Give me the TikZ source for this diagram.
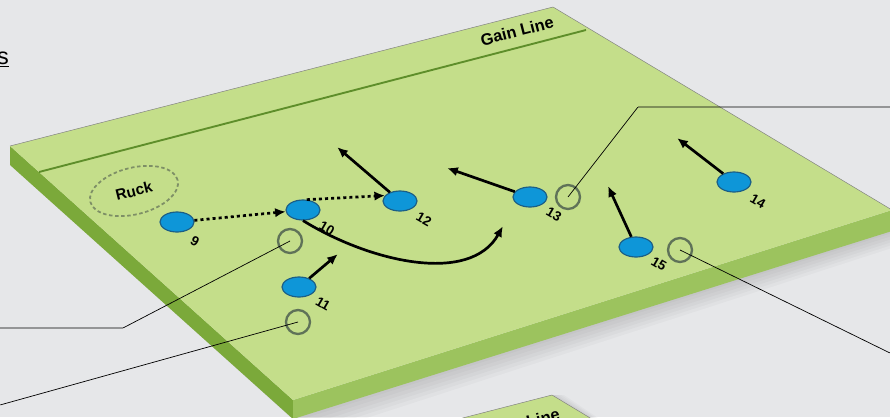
\documentclass[tikz,border=0pt]{standalone}
\usepackage{fontspec}
\setmainfont{Liberation Sans}
\usetikzlibrary{shapes.geometric,arrows.meta}
\definecolor{bgray}{HTML}{E6E7E9}
\definecolor{turf}{HTML}{C4DE8A}
\definecolor{turfleft}{HTML}{7BA93A}
\definecolor{turffront}{HTML}{9CC35E}
\definecolor{gainline}{HTML}{5E8E2A}
\definecolor{playerblue}{HTML}{0E96D8}
\definecolor{playeredge}{HTML}{1B5E86}
\definecolor{markgray}{HTML}{5F7258}
\definecolor{ruckgray}{HTML}{7E8F66}
\newcommand{\drawplayer}{\node[draw=playeredge, line width=1pt, fill=playerblue, ellipse, minimum width=1.02cm, minimum height=0.6cm, inner sep=0]}
\newcommand{\drawmark}{\node[draw=markgray, line width=2pt, circle, minimum size=0.72cm, inner sep=0]}
\newcommand{\drawnum}{\node[font=\bfseries\fontsize{11.5}{13}\selectfont, rotate=-30, inner sep=0]}
\newcommand{\drawpoint}{\node[minimum size=0,inner sep=0]}

\begin{document}
\begin{tikzpicture}[x=0.03cm, y=-0.03cm, >={Latex[length=9pt,width=8pt]},
  run/.style={->, line width=2.3pt},
  pass/.style={->, line width=2.3pt, dash pattern=on 2.6pt off 2.6pt},
  callout/.style={line width=0.6pt}]
\fill[bgray] (0,0) rectangle (890,417);
\useasboundingbox (0,0) rectangle (890,417);
%shadows
\foreach \d in {3,6,...,18}
  \fill[black, opacity=0.025] (10,164) -- (293+\d,418+\d) -- (892,230+\d) -- (892,230) -- (293,418) -- cycle;
\foreach \d in {3,6,...,12}
  \fill[black, opacity=0.025] (552+\d,395) -- (660,460) -- (420,460) -- (552,395) -- cycle;
%board
\fill[turfleft] (10,146) -- (293,400) -- (293,419) -- (10,165) -- cycle;
\fill[turffront] (293,400) -- (892,210) -- (892,231) -- (293,419) -- cycle;
\fill[turf] (10,146) -- (553,7) -- (892,210) -- (293,400) -- cycle;
\draw[gray, line width=0.4pt] (10,146) -- (553,7) -- (892,210);
\draw[gainline, line width=1.6pt] (39,172) -- (586,30);
\node[font=\bfseries\fontsize{14}{16}\selectfont, rotate=14.5] (gain) at (517,31) {Gain Line};
%second board
\fill[turf] (552,395) -- (640,448) -- (420,429) -- cycle;
\draw[gray, line width=0.4pt] (420,429) -- (552,395) -- (640,448);
\node[font=\bfseries\fontsize{14}{16}\selectfont, rotate=14.5] (line2) at (543,418) {Line};
%title
\node[font=\fontsize{20}{24}\selectfont, anchor=base east, inner sep=0] (title) at (9,64) {\underline{s}};

%ruck and players
\node[draw=ruckgray, dash pattern=on 3pt off 2.2pt, line width=1.5pt, ellipse, minimum width=2.7cm, minimum height=1.4cm, rotate=14, font=\bfseries\fontsize{13}{15}\selectfont] (ruck) at (134,191) {Ruck};
\drawplayer (p9) at (177,222) {};
\drawplayer (p10) at (303,210) {};
\drawplayer (p11) at (299,287) {};
\drawplayer (p12) at (400,201) {};
\drawplayer (p13) at (530,197) {};
\drawplayer (p14) at (734,182) {};
\drawplayer (p15) at (636,247) {};
\drawnum (n9) at (195,241) {9};
\drawnum (n10) at (327,228) {10};
\drawnum (n11) at (323,304) {11};
\drawnum (n12) at (424,219) {12};
\drawnum (n13) at (554,214) {13};
\drawnum (n14) at (758,201) {14};
\drawnum (n15) at (659,264) {15};
\drawmark (m10) at (290,241) {};
\drawmark (m11) at (298,322) {};
\drawmark (m13) at (568,197) {};
\drawmark (m15) at (680,250) {};

%runs and passes
\drawpoint (t11) at (338,254) {};
\drawpoint (t12) at (337,147) {};
\drawpoint (t13) at (447,168) {};
\drawpoint (t14) at (677,138) {};
\drawpoint (t15) at (608,186) {};
\drawpoint (t10) at (503,226) {};
\draw[pass] (p9) to (p10);
\draw[pass] (p10.70) to (p12.160);
\draw[run] (p11) to (t11);
\draw[run] (p12) to (t12);
\draw[run] (p13) to (t13);
\draw[run] (p14) to (t14);
\draw[run] (p15) to (t15);
\draw[run] (p10.south) .. controls (370,262) and (470,285) .. (t10);

%callouts
\drawpoint (k13) at (638,107) {};
\drawpoint (e13) at (890,107) {};
\drawpoint (k10) at (123,328) {};
\drawpoint (e10) at (0,328) {};
\drawpoint (e11) at (0,405) {};
\drawpoint (e15) at (890,353) {};
\draw[callout] (m13.center) -- (k13) -- (e13);
\draw[callout] (m10.center) -- (k10) -- (e10);
\draw[callout] (m11.center) -- (e11);
\draw[callout] (m15.center) -- (e15);
\end{tikzpicture}
\end{document}
